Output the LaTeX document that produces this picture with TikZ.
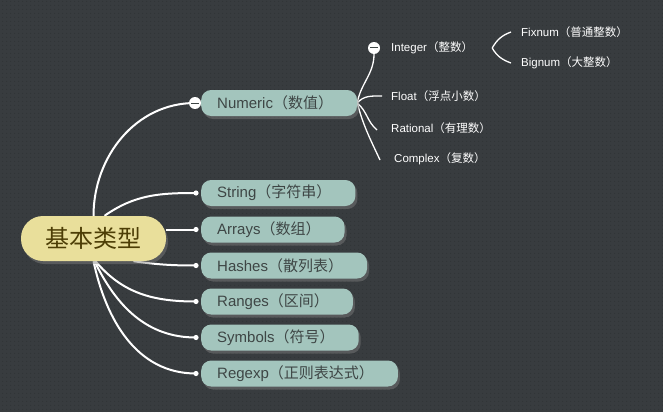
\documentclass[tikz,border=0pt]{standalone}
\usepackage{fontspec}
\setmainfont{Liberation Sans}
\newfontfamily\cjk{Noto Sans CJK SC}
\newcommand\zh[1]{{\cjk #1}}
\usetikzlibrary{positioning,shadows,patterns.meta}
\definecolor{mapFondo}{HTML}{383C3F}
\definecolor{mapPunto}{HTML}{2F3335}
\definecolor{mapTeal}{HTML}{A3C5BD}
\definecolor{mapTexto}{HTML}{3E4645}
\definecolor{mapOro}{HTML}{E9DF9B}
\definecolor{mapMarron}{HTML}{4D3E06}
\pgfdeclarelayer{fondo}
\pgfdeclarelayer{ramas}
\pgfsetlayers{fondo,ramas,main}

\begin{document}
\begin{tikzpicture}[x=1pt,y=1pt,
      raiz/.style={rounded corners=22pt, fill=mapOro, minimum width=145pt,
                minimum height=45pt, inner sep=0pt, text=mapMarron,
                font=\cjk\fontsize{24}{24}\selectfont,
                drop shadow={shadow xshift=2pt, shadow yshift=-3pt, opacity=.45}},
      hijo/.style={anchor=west, rounded corners=10pt, fill=mapTeal,
                minimum height=26pt, inner xsep=16pt, inner ysep=0pt,
                text=mapTexto, font=\fontsize{15}{15}\selectfont,
                execute at end node={\hspace*{8pt}},
                drop shadow={shadow xshift=2pt, shadow yshift=-3pt, opacity=.45}},
      hoja/.style={anchor=west, inner sep=0pt, text=white,
                font=\fontsize{11.5}{11.5}\selectfont},
      rama/.style={white, line width=2pt},
      ramita/.style={white, line width=1.3pt}]
    \begin{pgfonlayer}{fondo}
      \fill[mapFondo] (0,0) rectangle (663,-412);
      \fill[pattern={Dots[distance=4pt, radius=0.6pt]}, pattern color=mapPunto]
        (0,0) rectangle (663,-412);
    \end{pgfonlayer}

    \node[raiz] (base) at (93.5,-238.5) {基本类型};

    \node[hijo] (numeric) at (201,-103)   {Numeric\zh{（数值）}};
    \node[hijo] (string)  at (201,-193)   {String\zh{（字符串）}};
    \node[hijo] (arrays)  at (201,-229.5) {Arrays\zh{（数组）}};
    \node[hijo] (hashes)  at (201,-265.5) {Hashes\zh{（散列表）}};
    \node[hijo] (ranges)  at (201,-301.5) {Ranges\zh{（区间）}};
    \node[hijo] (symbols) at (201,-337.5) {Symbols\zh{（符号）}};
    \node[hijo] (regexp)  at (201,-373.5) {Regexp\zh{（正则表达式）}};

    \node[hoja] (integer)  at (391,-48)  {Integer\zh{（整数）}};
    \node[hoja] (float)    at (391,-96)  {Float\zh{（浮点小数）}};
    \node[hoja] (rational) at (391,-128) {Rational\zh{（有理数）}};
    \node[hoja] (complex)  at (394,-159) {Complex\zh{（复数）}};
    \node[hoja] (fixnum)   at (521,-32)  {Fixnum\zh{（普通整数）}};
    \node[hoja] (bignum)   at (521,-63)  {Bignum\zh{（大整数）}};

    \coordinate (nmenos) at ([xshift=-6pt]numeric.west);
    \coordinate (imenos) at ([xshift=-17pt]integer.west);
    \coordinate (sp) at ([xshift=-5pt]string.west);
    \coordinate (ap) at ([xshift=-5pt]arrays.west);
    \coordinate (hp) at ([xshift=-5pt]hashes.west);
    \coordinate (rp) at ([xshift=-5pt]ranges.west);
    \coordinate (yp) at ([xshift=-5pt]symbols.west);
    \coordinate (xp) at ([xshift=-5pt]regexp.west);
    \coordinate (llave) at ([xshift=19pt]integer.east);

    \begin{pgfonlayer}{ramas}
      \draw[rama] (base.north) to[out=90, in=180] (nmenos);
      \draw[rama] ([xshift=11pt]base.north) to[out=35, in=180] (sp);
      \draw[rama] ([yshift=9pt]base.east) -- (ap);
      \draw[rama] ([xshift=40pt]base.south) to[out=-8, in=180] (hp);
      \draw[rama] ([xshift=2pt]base.south) to[out=-50, in=180] (rp);
      \draw[rama] ([xshift=1pt]base.south) to[out=-64, in=180] (yp);
      \draw[rama] (base.south) to[out=-78, in=180] (xp);

      \draw[ramita] (numeric.east) to[out=80, in=-90] ([yshift=-6pt]imenos);
      \draw[ramita] (numeric.east) to[out=50, in=180] ([xshift=-9pt]float.west);
      \draw[ramita] (numeric.east) to[out=-40, in=140] ([xshift=-14pt,yshift=-2pt]rational.west);
      \draw[ramita] (numeric.east) to[out=-75, in=115] ([xshift=-14pt,yshift=-1pt]complex.west);
      \draw[ramita] (llave) to[out=60, in=200] ([xshift=-10pt]fixnum.west);
      \draw[ramita] (llave) to[out=-60, in=160] ([xshift=-10pt]bignum.west);
    \end{pgfonlayer}

    \foreach \p in {sp,ap,hp,rp,yp,xp}
      \fill[white] (\p) circle (2.6pt);
    \foreach \p in {nmenos,imenos} {
      \fill[white] (\p) circle (6pt);
      \draw[mapTexto, line width=1pt] ([xshift=-4pt]\p) -- ([xshift=4pt]\p);
    }
  \end{tikzpicture}
\end{document}
